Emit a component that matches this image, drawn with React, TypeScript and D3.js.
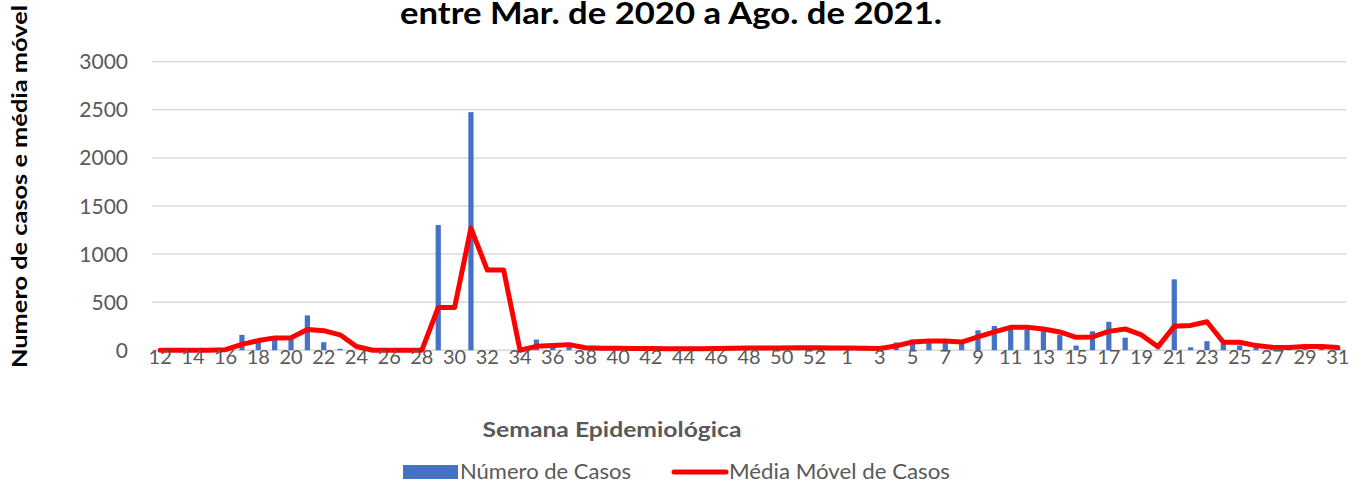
import React from "react";
import * as d3 from "d3";

// ---- Data ----
const weekLabels: string[] = [
  "12","13","14","15","16","17","18","19","20","21","22","23","24","25","26","27","28","29","30","31",
  "32","33","34","35","36","37","38","39","40","41","42","43","44","45","46","47","48","49","50","51","52","53",
  "1","2","3","4","5","6","7","8","9","10","11","12","13","14","15","16","17","18","19","20","21","22","23",
  "24","25","26","27","28","29","30","31",
];

const casos: number[] = [
  0, 0, 0, 0, 10, 159, 110, 120, 140, 362, 83, 15, 0, 0, 0, 0, 0, 1302, 0, 2476,
  0, 0, 0, 111, 45, 40, 5, 15, 20, 25, 15, 10, 5, 10, 15, 10, 20, 25, 20, 15, 25, 20,
  20, 15, 25, 80, 110, 75, 85, 90, 207, 252, 245, 215, 200, 160, 48, 197, 296, 130, 0, 5, 737, 30, 93,
  70, 50, 30, 25, 30, 45, 35, 20,
];

const mediaMovel: number[] = [
  0, 0, 0, 0, 5, 60, 100, 128, 130, 215, 203, 160, 38, 0, 0, 0, 0, 444, 444, 1270,
  833, 833, 0, 40, 50, 58, 25, 20, 20, 18, 18, 16, 16, 16, 18, 20, 23, 23, 24, 25, 26, 24,
  22, 20, 18, 45, 85, 95, 95, 85, 138, 190, 238, 238, 221, 190, 134, 138, 196, 221, 159, 35, 248, 258, 296,
  83, 83, 48, 31, 28, 38, 38, 28,
];

const yTicks: number[] = [0, 500, 1000, 1500, 2000, 2500, 3000];

const title = "entre Mar. de 2020 a Ago. de 2021.";
const yTitle = "Numero de casos e média móvel";
const xTitle = "Semana Epidemiológica";
const legendBar = "Número de Casos";
const legendLine = "Média Móvel de Casos";

const W = 1362;
const H = 482;
const FONT = "Lato, 'Open Sans', sans-serif";

export default function App() {
  const keys = weekLabels.map((_, i) => String(i));
  const x = d3.scaleBand<string>().domain(keys).range([152, 1346]).padding(0);
  const y = d3.scaleLinear().domain([0, 3000]).range([350.2, 61.8]);
  const step = x.step();
  const barW = step * 0.32;
  const cx = (i: number) => (x(String(i)) as number) + step / 2;

  const line = d3
    .line<number>()
    .x((_, i) => cx(i))
    .y((d) => y(d));

  return (
    <svg
      width={W}
      height={H}
      style={{ position: "absolute", left: 0, top: 0, background: "#fff" }}
      fontFamily={FONT}
    >
      <rect x={0} y={0} width={W} height={H} fill="#fff" />
      {/* title */}
      <text
        x={671}
        y={24}
        textAnchor="middle"
        fontSize={30}
        fontWeight="bold"
        fill="#000"
        textLength={542}
        lengthAdjust="spacingAndGlyphs"
      >
        {title}
      </text>

      {/* gridlines */}
      {yTicks.map((t) => (
        <line key={t} x1={152} x2={1346} y1={y(t)} y2={y(t)} stroke="#d9d9d9" strokeWidth={1.5} />
      ))}
      {/* y tick labels */}
      {yTicks.map((t) => (
        <text
          key={"l" + t}
          x={128}
          y={y(t)}
          dy="0.36em"
          textAnchor="end"
          fontSize={21}
          fill="#595959"
        >
          {t}
        </text>
      ))}

      {/* bars */}
      {casos.map((v, i) => (
        <rect
          key={"b" + i}
          x={cx(i) - barW / 2}
          y={y(v)}
          width={barW}
          height={y(0) - y(v)}
          fill="#4472c4"
        />
      ))}

      {/* moving average line */}
      <path
        d={line(mediaMovel) || ""}
        fill="none"
        stroke="#ff0000"
        strokeWidth={5}
        strokeLinejoin="round"
        strokeLinecap="round"
      />

      {/* x tick labels */}
      {weekLabels.map((lab, i) =>
        i % 2 === 0 ? (
          <text
            key={"x" + i}
            x={cx(i)}
            y={364}
            textAnchor="middle"
            fontSize={20}
            fill="#595959"
          >
            {lab}
          </text>
        ) : null
      )}

      {/* axis titles */}
      <text
        x={612}
        y={437}
        textAnchor="middle"
        fontSize={20}
        fontWeight="bold"
        fill="#595959"
        textLength={259}
        lengthAdjust="spacingAndGlyphs"
      >
        {xTitle}
      </text>
      <text
        transform="translate(27,186.5) rotate(-90)"
        textAnchor="middle"
        fontSize={20}
        fontWeight="bold"
        fill="#000"
        textLength={363}
        lengthAdjust="spacingAndGlyphs"
      >
        {yTitle}
      </text>

      {/* legend */}
      <rect x={403} y={465} width={55} height={14} fill="#4472c4" />
      <text x={460} y={479} fontSize={21} fill="#595959" textLength={171} lengthAdjust="spacingAndGlyphs">
        {legendBar}
      </text>
      <line x1={674} x2={726} y1={472} y2={472} stroke="#ff0000" strokeWidth={5} strokeLinecap="round" />
      <text x={729} y={479} fontSize={21} fill="#595959" textLength={221} lengthAdjust="spacingAndGlyphs">
        {legendLine}
      </text>
    </svg>
  );
}
